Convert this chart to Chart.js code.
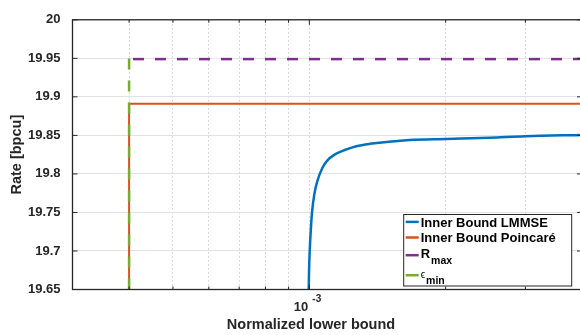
<!DOCTYPE html>
<html>
<head>
<meta charset="utf-8">
<script src="https://cdn.jsdelivr.net/npm/chart.js@4.4.0/dist/chart.umd.min.js"></script>
<style>
  html, body { margin: 0; padding: 0; background: #fff; overflow: hidden; }
</style>
</head>
<body>
<!-- canvas is a bit wider than the window: the right axis of the original sits just past the crop -->
<canvas id="rateChart" width="584" height="335"></canvas>
<script>
// --- DATA ---
const xMin = 3.0e-4;
const xMax = 4.0e-3;
const epsMin = 4.0e-4;

// Inner bound LMMSE curve
const lmmseX = [0.997e-3, 0.9985e-3, 1.002e-3, 1.0087e-3, 1.0138e-3, 1.026e-3, 1.042e-3, 1.069e-3,
                1.094e-3, 1.137e-3, 1.197e-3, 1.270e-3, 1.359e-3, 1.664e-3, 2.005e-3, 2.5e-3,
                3.0e-3, 4.0e-3];
const lmmseY = [19.65, 19.6726, 19.70, 19.732, 19.75, 19.774, 19.791, 19.808,
                19.817, 19.825, 19.831, 19.836, 19.839, 19.844, 19.8454, 19.847,
                19.849, 19.8505];

// Inner bound Poincare (step at eps_min)
const poincareX = [epsMin, epsMin, xMax];
const poincareY = [19.65, 19.891, 19.891];

// R_max
const rMaxX = [4.08e-4, xMax];
const rMaxY = [19.949, 19.949];

// eps_min marker
const epsX = [epsMin, epsMin];
const epsY = [19.65, 19.95];

// axes
const yTicks = [19.65, 19.7, 19.75, 19.8, 19.85, 19.9, 19.95, 20];
const xMajorTicks = [1e-3];
const xMinorTicks = [4e-4, 5e-4, 6e-4, 7e-4, 8e-4, 9e-4, 2e-3, 3e-3];

const legendNames = ['Inner Bound LMMSE', 'Inner Bound Poincaré', 'R', 'ϵ'];
const legendSubs = ['', '', 'max', 'min'];

const FONT = "'Liberation Sans', Arial, Helvetica, sans-serif";
const AXIS_COLOR = '#262626';

function toPoints(xs, ys) {
    return xs.map((x, i) => ({ x: x, y: ys[i] }));
}

// Draws the MATLAB-like box, inward ticks, x tick label, x title and legend
const matlabAxes = {
    id: 'matlabAxes',
    afterDraw(chart) {
        const ctx = chart.ctx;
        const area = chart.chartArea;
        const xs = chart.scales.x;
        const ys = chart.scales.y;

        ctx.save();
        ctx.strokeStyle = AXIS_COLOR;
        ctx.lineWidth = 1.3;
        ctx.strokeRect(area.left, area.top, area.right - area.left, area.bottom - area.top);

        // inward ticks on all four sides
        ctx.lineWidth = 1;
        ctx.beginPath();
        yTicks.forEach(v => {
            const py = ys.getPixelForValue(v);
            ctx.moveTo(area.left, py); ctx.lineTo(area.left + 5, py);
            ctx.moveTo(area.right, py); ctx.lineTo(area.right - 5, py);
        });
        xMinorTicks.forEach(v => {
            const px = xs.getPixelForValue(v);
            ctx.moveTo(px, area.bottom); ctx.lineTo(px, area.bottom - 3);
            ctx.moveTo(px, area.top); ctx.lineTo(px, area.top + 3);
        });
        xMajorTicks.forEach(v => {
            const px = xs.getPixelForValue(v);
            ctx.moveTo(px, area.bottom); ctx.lineTo(px, area.bottom - 5);
            ctx.moveTo(px, area.top); ctx.lineTo(px, area.top + 5);
        });
        ctx.stroke();

        // x tick label 10^-3
        ctx.fillStyle = AXIS_COLOR;
        ctx.textBaseline = 'alphabetic';
        xMajorTicks.forEach(v => {
            const px = xs.getPixelForValue(v);
            const exp = Math.round(Math.log10(v));
            ctx.font = 'bold 13px ' + FONT;
            ctx.textAlign = 'right';
            ctx.fillText('10', px - 1, area.bottom + 21);
            ctx.font = 'bold 10px ' + FONT;
            ctx.textAlign = 'left';
            ctx.fillText(String(exp), px + 3, area.bottom + 12);
        });

        // x axis title
        ctx.font = 'bold 14.5px ' + FONT;
        ctx.textAlign = 'center';
        ctx.fillText('Normalized lower bound', 311, area.bottom + 39);

        // legend
        const W = 168, H = 71.5;
        const L = area.right - 10.3 - W;
        const T = area.bottom - 75;
        ctx.fillStyle = '#fff';
        ctx.fillRect(L, T, W, H);
        ctx.strokeStyle = AXIS_COLOR;
        ctx.lineWidth = 1;
        ctx.strokeRect(L, T, W, H);

        const lineY = [7.4, 23, 40.7, 60.7];
        const baseY = [12.4, 27.6, 43, 63.4];
        const subY = [0, 0, 49.4, 69.4];
        chart.data.datasets.forEach((ds, i) => {
            ctx.strokeStyle = ds.borderColor;
            ctx.lineWidth = 2.5;
            ctx.setLineDash([]);
            ctx.beginPath();
            ctx.moveTo(L + 2, T + lineY[i]);
            ctx.lineTo(L + 15, T + lineY[i]);
            ctx.stroke();

            ctx.fillStyle = '#000';
            ctx.textAlign = 'left';
            ctx.font = (i === 3 ? '10px ' : 'bold 13px ') + FONT;
            ctx.fillText(legendNames[i], L + 17, T + baseY[i]);
            if (legendSubs[i]) {
                const w = ctx.measureText(legendNames[i]).width;
                ctx.font = 'bold 10.5px ' + FONT;
                ctx.fillText(legendSubs[i], L + 17 + w + 1, T + subY[i]);
            }
        });
        ctx.restore();
    }
};

const ctx = document.getElementById('rateChart').getContext('2d');
const rateChart = new Chart(ctx, {
    type: 'line',
    data: {
        datasets: [
            { label: 'Inner Bound LMMSE', data: toPoints(lmmseX, lmmseY), borderColor: '#0072BD',
              borderWidth: 2.5, cubicInterpolationMode: 'monotone', order: 4 },
            { label: 'Inner Bound Poincaré', data: toPoints(poincareX, poincareY), borderColor: '#D95319',
              borderWidth: 2, order: 3 },
            { label: 'R_max', data: toPoints(rMaxX, rMaxY), borderColor: '#7E2F8E',
              borderWidth: 2.5, borderDash: [11, 11], order: 2 },
            { label: 'eps_min', data: toPoints(epsX, epsY), borderColor: '#77AC30',
              borderWidth: 2.5, borderDash: [11, 11], order: 1 }
        ]
    },
    options: {
        responsive: false,
        animation: false,
        layout: { padding: { top: 14, right: 2, left: 0, bottom: 0 } },
        elements: { point: { radius: 0, hoverRadius: 0 }, line: { fill: false } },
        plugins: { legend: { display: false }, tooltip: { enabled: false } },
        scales: {
            x: {
                type: 'logarithmic',
                min: xMin, max: xMax,
                afterBuildTicks: s => { s.ticks = xMinorTicks.concat(xMajorTicks).map(v => ({ value: v })); },
                afterFit: s => { s.height = 45.5; },
                ticks: { display: false, autoSkip: false },
                grid: { color: '#d6d6d6', lineWidth: 1, drawTicks: false },
                border: { display: false, dash: [2, 2] }
            },
            y: {
                type: 'linear',
                min: 19.65, max: 20,
                afterBuildTicks: s => { s.ticks = yTicks.map(v => ({ value: v })); },
                afterFit: s => { s.width = 72.5; },
                ticks: {
                    padding: 12,
                    color: AXIS_COLOR,
                    font: { family: FONT, size: 13, weight: 'bold' },
                    callback: v => String(Number(v.toFixed(2)))
                },
                grid: { color: '#e2e2e2', lineWidth: 1, drawTicks: false },
                border: { display: false },
                title: {
                    display: true,
                    text: 'Rate [bpcu]',
                    color: AXIS_COLOR,
                    font: { family: FONT, size: 14.5, weight: 'bold' },
                    padding: { top: 8, bottom: 0 }
                }
            }
        }
    },
    plugins: [matlabAxes]
});
</script>
</body>
</html>
